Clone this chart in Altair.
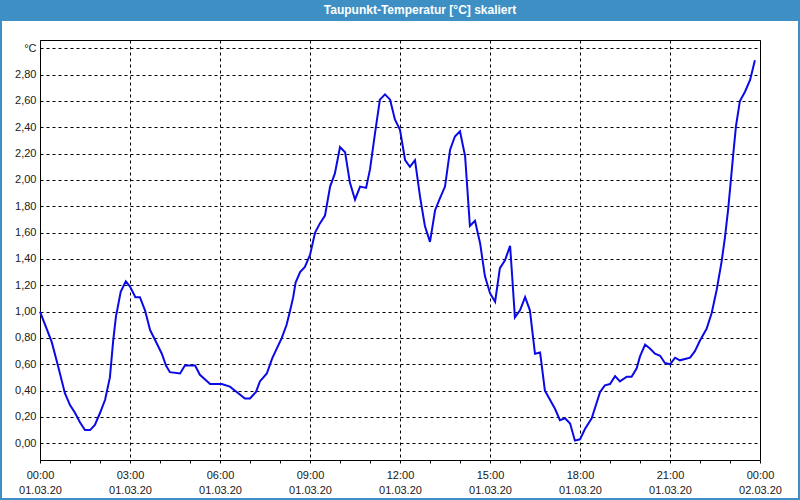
import altair as alt
import pandas as pd

# time in hours since 01.03.20 00:00
hours = [0, 0.39, 0.61, 0.83, 1.0, 1.17, 1.33, 1.5, 1.67, 1.83, 2.0, 2.17, 2.33, 2.44, 2.53, 2.69,
         2.86, 3.0, 3.18, 3.33, 3.5, 3.67, 3.89, 4.06, 4.2, 4.33, 4.67, 4.83, 5.17, 5.33, 5.67, 6.06,
         6.33, 6.61, 6.83, 7.0, 7.2, 7.33, 7.56, 7.74, 8.06, 8.22, 8.33, 8.44, 8.52, 8.67, 8.83, 9.0,
         9.17, 9.33, 9.5, 9.67, 9.83, 10.0, 10.17, 10.33, 10.5, 10.67, 10.87, 11.0, 11.17, 11.33,
         11.5, 11.67, 11.83, 12.0, 12.17, 12.33, 12.5, 12.67, 12.83, 13.0, 13.17, 13.33, 13.5, 13.67,
         13.83, 14.0, 14.17, 14.33, 14.5, 14.67, 14.83, 15.0, 15.17, 15.33, 15.5, 15.67, 15.74, 15.83,
         16.0, 16.17, 16.33, 16.5, 16.67, 16.83, 17.0, 17.17, 17.33, 17.5, 17.67, 17.83, 18.0, 18.17,
         18.39, 18.67, 18.83, 19.0, 19.17, 19.33, 19.56, 19.72, 19.89, 20.0, 20.17, 20.33, 20.5,
         20.67, 20.83, 21.0, 21.17, 21.33, 21.67, 21.83, 22.0, 22.22, 22.39, 22.56, 22.72, 22.83,
         22.94, 23.03, 23.11, 23.2, 23.33, 23.5, 23.67, 23.83]

dewpoint = [1.00, 0.77, 0.58, 0.38, 0.29, 0.23, 0.16, 0.10, 0.10, 0.14, 0.23, 0.33, 0.50, 0.78, 0.96, 1.15,
            1.23, 1.19, 1.11, 1.11, 1.01, 0.86, 0.76, 0.68, 0.59, 0.54, 0.53, 0.59, 0.59, 0.52, 0.45, 0.45,
            0.43, 0.38, 0.34, 0.34, 0.39, 0.47, 0.53, 0.645, 0.80, 0.90, 1.00, 1.11, 1.22, 1.30, 1.34, 1.43,
            1.60, 1.67, 1.73, 1.95, 2.05, 2.25, 2.21, 1.98, 1.85, 1.95, 1.94, 2.08, 2.36, 2.61,
            2.65, 2.61, 2.46, 2.38, 2.15, 2.10, 2.15, 1.87, 1.65, 1.53, 1.77, 1.86, 1.95, 2.23,
            2.33, 2.37, 2.18, 1.65, 1.69, 1.52, 1.27, 1.14, 1.075, 1.33, 1.39, 1.50, 1.265, 0.956,
            1.01, 1.11, 1.01, 0.68, 0.69, 0.40, 0.33, 0.26, 0.175, 0.19, 0.15, 0.02, 0.03, 0.11,
            0.19, 0.39, 0.44, 0.45, 0.51, 0.47, 0.505, 0.505, 0.57, 0.66, 0.75, 0.72, 0.68,
            0.665, 0.61, 0.60, 0.65, 0.63, 0.65, 0.70, 0.78, 0.87, 0.99, 1.17, 1.38, 1.56,
            1.78, 2.00, 2.20, 2.41, 2.60, 2.67, 2.76, 2.91]

x_tick_hours = [0, 1, 2, 3, 4, 5, 6, 7, 8, 9, 10, 11, 12, 13, 14, 15, 16, 17, 18, 19, 20, 21, 22, 23, 24]
time_labels = ["00:00", "03:00", "06:00", "09:00", "12:00", "15:00", "18:00", "21:00", "00:00"]
date_labels = ["01.03.20", "01.03.20", "01.03.20", "01.03.20", "01.03.20",
               "01.03.20", "01.03.20", "01.03.20", "02.03.20"]
y_ticks = [0.0, 0.2, 0.4, 0.6, 0.8, 1.0, 1.2, 1.4, 1.6, 1.8, 2.0, 2.2, 2.4, 2.6, 2.8, 3.0]

title_text = "Taupunkt-Temperatur [°C] skaliert"
unit_label = "°C"

df = pd.DataFrame({"h": hours, "t": dewpoint})

t_arr = "[" + ",".join("'" + s + "'" for s in time_labels) + "]"
d_arr = "[" + ",".join("'" + s + "'" for s in date_labels) + "]"
x_label_expr = ("datum.value % 3 === 0 ? [" + t_arr + "[datum.value/3], " + d_arr +
                "[datum.value/3]] : ''")
y_label_expr = ("datum.value > 2.95 ? '" + unit_label +
                "' : replace(format(datum.value, '.2f'), '.', ',')")

FONT = "Liberation Sans"
BAR = "#3d8fc4"

line = alt.Chart(df).mark_line(color="#0a0ae6", strokeWidth=2).encode(
    x=alt.X("h:Q",
            scale=alt.Scale(domain=[0, 24], nice=False, zero=False),
            axis=alt.Axis(values=x_tick_hours, title=None, domain=False,
                          grid=True, gridColor="black", gridDash=[3, 3], gridWidth=1,
                          gridOpacity={"condition": {"test": "datum.value % 3 === 0", "value": 1},
                                       "value": 0},
                          ticks=True, tickSize=3, tickColor="black",
                          labelExpr=x_label_expr, labelFont=FONT, labelFontSize=11,
                          labelColor="#202020", labelPadding=6, labelLineHeight=15,
                          labelOverlap=False, labelFlush=False)),
    y=alt.Y("t:Q",
            scale=alt.Scale(domain=[-0.127, 3.063], nice=False, zero=False),
            axis=alt.Axis(values=y_ticks, title=None, domain=False,
                          grid=True, gridColor="black", gridDash=[3, 3], gridWidth=1,
                          ticks=False, labelExpr=y_label_expr, labelFont=FONT,
                          labelFontSize=11, labelColor="#202020", labelPadding=4,
                          labelOverlap=False, labelFlush=False)),
)

one = alt.Data(values=[{}])

title_bar = alt.Chart(one).mark_rect(color=BAR).encode(
    x=alt.value(-40), x2=alt.value(760), y=alt.value(-40), y2=alt.value(-19))

frame = alt.Chart(one).mark_rect(fillOpacity=0, stroke=BAR, strokeWidth=2).encode(
    x=alt.value(-39), x2=alt.value(759), y=alt.value(-40), y2=alt.value(459))

title = alt.Chart(one).mark_text(text=title_text, color="white", font=FONT, fontSize=12,
                                 fontWeight="bold", align="center", baseline="middle").encode(
    x=alt.value(380), y=alt.value(-30))

chart = alt.layer(title_bar, frame, title, line).properties(
    width=720, height=420,
    autosize=alt.AutoSizeParams(type="none"),
    padding={"left": 40, "top": 40, "right": 40, "bottom": 40},
    background="white",
).configure_view(stroke="black", strokeWidth=1)

chart.save("out.html", embed_options={"renderer": "svg", "actions": False})
